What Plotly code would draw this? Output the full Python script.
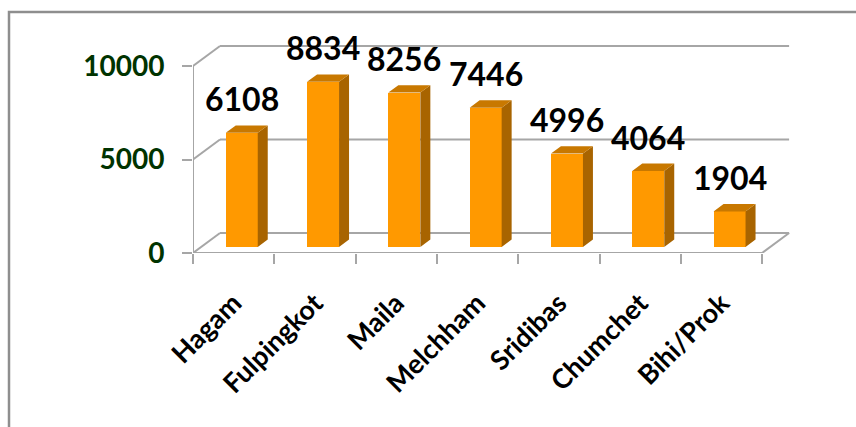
import plotly.graph_objects as go

# ---- data ----
categories = ["Hagam", "Fulpingkot", "Maila", "Melchham", "Sridibas", "Chumchet", "Bihi/Prok"]
values = [6108, 8834, 8256, 7446, 4996, 4064, 1904]
y_ticks = [0, 5000, 10000]
y_tick_labels = ["0", "5000", "10000"]

# ---- geometry / style (pixel based layout) ----
W, H = 856, 427
LEFT_PX, ZERO_PX = 193, 253          # front-plane origin in pixels
PX_PER_CAT = 81.3
PX_PER_UNIT = 0.0187
TOP_PX, RIGHT_PX = 20, 800

plot_w = RIGHT_PX - LEFT_PX
plot_h = ZERO_PX - TOP_PX
x_range = [-0.5, -0.5 + plot_w / PX_PER_CAT]
y_range = [0, plot_h / PX_PER_UNIT]

DX = 27 / PX_PER_CAT      # oblique depth in category units
DV = 20 / PX_PER_UNIT     # oblique depth in value units
Z0 = 0.30                 # depth fraction of bar front face
BD = 0.37                 # bar depth fraction
BW = 32 / PX_PER_CAT      # bar width

FRONT = "#FF9900"
SIDE = "#A86400"
TOP = "#C87800"
GRID = "#A6A6A6"
n = len(categories)

fig = go.Figure()

# bar front faces
xs = [i + Z0 * DX for i in range(n)]
base = Z0 * DV
fig.add_trace(go.Bar(x=xs, y=values, base=[base] * n, width=BW,
                     marker=dict(color=FRONT, line=dict(width=0)),
                     hoverinfo="skip", showlegend=False))

# side and top faces
sx, sy, tx, ty = [], [], [], []
ddx, ddv = BD * DX, BD * DV
for xc, v in zip(xs, values):
    xl, xr = xc - BW / 2, xc + BW / 2
    top = base + v
    sx += [xr, xr + ddx, xr + ddx, xr, xr, None]
    sy += [base, base + ddv, top + ddv, top, base, None]
    tx += [xl, xr, xr + ddx, xl + ddx, xl, None]
    ty += [top, top, top + ddv, top + ddv, top, None]
fig.add_trace(go.Scatter(x=sx, y=sy, fill="toself", fillcolor=SIDE, mode="lines",
                         line=dict(width=0, color=SIDE), hoverinfo="skip", showlegend=False))
fig.add_trace(go.Scatter(x=tx, y=ty, fill="toself", fillcolor=TOP, mode="lines",
                         line=dict(width=0, color=TOP), hoverinfo="skip", showlegend=False))

# box lines (below traces)
shapes = []
def seg(x0, y0, x1, y1, w=2):
    shapes.append(dict(type="line", xref="x", yref="y", x0=x0, y0=y0, x1=x1, y1=y1,
                       line=dict(color=GRID, width=w), layer="below"))
x_left, x_right = -0.5, n - 0.5
for v in y_ticks:
    seg(x_left + DX, v + DV, x_right + DX, v + DV)     # back wall grid
    seg(x_left, v, x_left + DX, v + DV)                # left wall diagonal
seg(x_left, 0, x_left, y_ticks[-1])                    # front vertical axis
seg(x_left, 0, x_right, 0)                             # floor front edge
seg(x_right, 0, x_right + DX, DV)                      # floor right edge

# outer border (paper coords from pixels)
def px_to_paper_x(px):
    return (px - LEFT_PX) / plot_w
def px_to_paper_y(py):
    return (ZERO_PX - py) / plot_h
shapes.append(dict(type="rect", xref="paper", yref="paper",
                   x0=px_to_paper_x(9), x1=px_to_paper_x(W + 10),
                   y0=px_to_paper_y(H + 10), y1=px_to_paper_y(12),
                   line=dict(color="#8E8E8E", width=2.5), layer="below"))

# value labels
annotations = []
for xc, v in zip(xs, values):
    annotations.append(dict(x=xc, y=base + v + ddv, xref="x", yref="y",
                            text=str(v), showarrow=False, yanchor="bottom",
                            yshift=5,
                            font=dict(family="Lato", size=32, color="black", weight="bold")))

fig.update_layout(
    width=W, height=H,
    margin=dict(l=LEFT_PX, r=W - RIGHT_PX, t=TOP_PX, b=H - ZERO_PX),
    paper_bgcolor="white", plot_bgcolor="rgba(0,0,0,0)",
    shapes=shapes, annotations=annotations,
    bargap=0, showlegend=False,
    xaxis=dict(range=x_range, tickmode="array", tickvals=list(range(n)), ticktext=categories,
               tickangle=-45, ticks="", showgrid=False, zeroline=False, showline=False,
               ticklabelstandoff=28,
               tickfont=dict(family="Lato", size=27, color="black", weight="bold"),
               minor=dict(tickmode="linear", tick0=-0.5, dtick=1, ticks="outside",
                          ticklen=10, tickwidth=2, tickcolor=GRID, showgrid=False)),
    yaxis=dict(range=y_range, tickmode="array", tickvals=y_ticks, ticktext=y_tick_labels,
               ticks="outside", ticklen=10, tickwidth=2, tickcolor=GRID,
               showgrid=False, zeroline=False, showline=False,
               ticklabelstandoff=12,
               tickfont=dict(family="Lato", size=28, color="#003300", weight="bold")),
)

fig.write_html("out.html")
